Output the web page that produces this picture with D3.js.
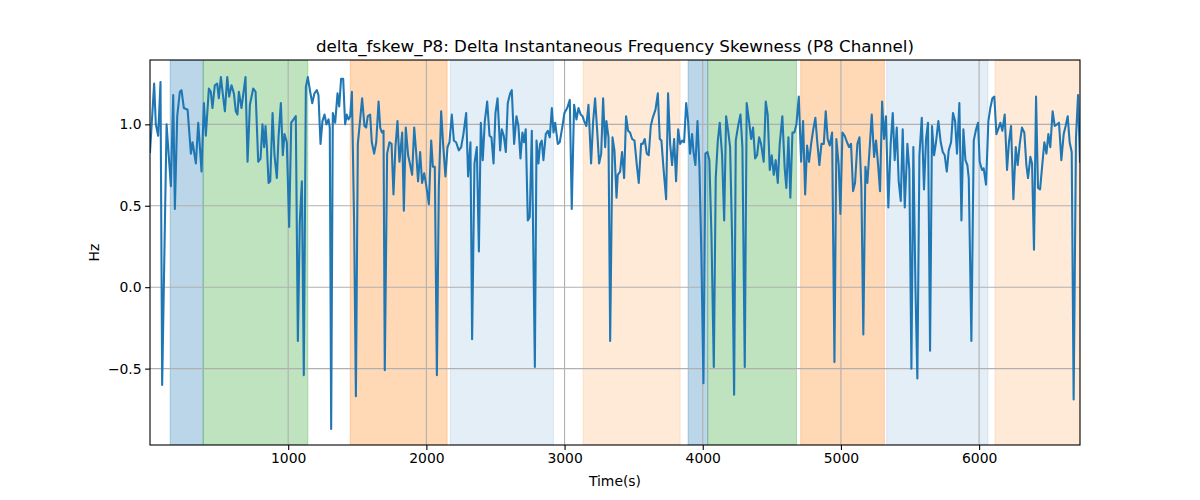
<!DOCTYPE html>
<html><head><meta charset="utf-8">
<script src="https://cdn.jsdelivr.net/npm/d3@7"></script>
<style>body{margin:0;background:#fff}svg{display:block}text{font-family:"DejaVu Sans",sans-serif;fill:#000}</style>
</head><body><svg id="c" width="1200" height="500"></svg>
<script>
const title = "delta_fskew_P8: Delta Instantaneous Frequency Skewness (P8 Channel)";
const xLabel = "Time(s)";
const yLabel = "Hz";
const xTicks = [1000, 2000, 3000, 4000, 5000, 6000];
const yTicks = [-0.5, 0.0, 0.5, 1.0];
const xDomain = [0, 6730];
const yDomain = [-0.969, 1.395];

const times = [0,30,42,59,76,88,120,151,168,180,197,216,228,245,272,296,308,332,349,373,390,404,426,440,452,469,486,498,513,525,542,559,573,590,607,621,633,643,662,691,706,723,747,764,783,800,814,826,836,
846,858,870,887,901,918,930,947,961,973,990,1007,1022,1039,1055,1070,1084,1099,1113,1128,1142,1159,1174,1190,1207,1219,1234,1248,1263,1277,1292,1301,1311,1323,1340,1357,1369,1383,1398,1412,1424,1436,1449,1461,1477,1490,1504,1521,1535,1552,1564,1576,1593,1605,1622,1637,1654,1666,1678,1690,1699,
1716,1733,1748,1762,1776,1791,1805,1825,1837,1851,1868,1883,1897,1912,1926,1940,1955,1969,1984,1998,2018,2035,2047,2061,2076,2090,2107,2121,2138,2153,2167,2184,2199,2215,2235,2252,2268,2288,2302,2319,2331,2348,2365,2380,2394,2408,2423,2440,2457,2471,2486,2500,2515,
2534,2546,2560,2575,2589,2606,2618,2635,2652,2666,2681,2695,2707,2719,2734,2748,2763,2785,2797,2811,2823,2835,2847,2864,2879,2893,2908,2920,2932,2951,2965,2985,2999,3019,3038,3052,3069,3086,3101,3117,3130,3142,3158,3173,3192,3207,3221,3236,3250,3265,3279,3294,3303,3318,3330,3347,3361,3376,
3385,3402,3416,3431,3445,3460,3474,3489,3506,3523,3537,3554,3566,3580,3595,3609,3624,3638,3658,3675,3689,3701,3716,3735,3749,3764,3778,3793,3807,3822,3836,3851,3865,3880,3894,3908,3923,3933,3947,3962,3976,3990,4005,4019,4034,4048,4063,4080,4094,4109,4123,4140,4155,4169,4184,4198,4213,4227,
4239,4256,4273,4287,4304,4318,4335,4350,4364,4379,4393,4408,4422,4441,4456,4470,4485,4499,4514,4528,4543,4557,4576,4593,4605,4620,4634,4649,4663,4678,4695,4712,4726,4741,4755,4769,4786,4798,4815,4830,4844,4859,4876,4890,4904,4919,4936,4953,4967,4984,4996,5011,5027,5044,5059,5073,
5088,5102,5119,5134,5148,5162,5177,5191,5206,5223,5240,5254,5269,5283,5298,5312,5326,5343,5360,5375,5389,5404,5418,5433,5447,5462,5481,5495,5510,5524,5539,5553,5568,5585,5601,5616,5630,5645,5659,5674,5688,5705,5722,5737,5751,5766,5780,5797,5811,5826,5840,5857,5872,5886,5901,5915,
5925,5944,5961,5978,5992,6004,6021,6033,6050,6067,6081,6096,6110,6125,6142,6154,6168,6185,6202,6216,6231,6248,6265,6279,6294,6310,6327,6342,6354,6371,6383,6397,6412,6426,6441,6458,6472,6487,6501,6515,6532,6547,6564,6578,6595,6612,6626,6641,6655,6670,6684,6701,6716,6730];

const values = [0.83,1.25,1.00,0.93,1.26,-0.60,1.00,0.62,1.18,0.48,1.05,1.20,1.21,1.10,1.09,0.82,0.89,0.76,1.01,0.71,1.13,0.93,1.22,1.20,1.10,1.24,1.25,1.16,1.29,1.20,1.08,1.29,1.17,1.24,1.19,1.08,1.06,1.20,1.10,1.29,0.77,1.12,1.22,1.20,0.77,0.79,1.00,0.86,0.99,
0.86,0.64,0.65,1.07,0.81,0.67,0.92,1.13,0.81,0.94,0.89,0.37,1.01,1.03,1.05,-0.33,0.40,0.65,-0.54,1.23,1.29,1.20,1.13,1.19,1.21,1.18,0.88,1.02,1.06,1.00,1.03,0.98,-0.87,1.07,1.01,1.19,1.11,1.28,1.28,1.00,1.06,1.03,1.05,1.20,0.40,-0.67,0.88,1.03,1.16,0.99,0.98,1.05,1.06,0.89,0.82,0.89,1.14,0.98,0.95,0.96,-0.51,
0.82,0.89,0.88,0.57,0.86,1.02,0.77,0.95,0.47,0.98,0.81,0.75,0.69,0.98,0.83,0.65,0.83,0.64,0.70,0.63,0.51,0.90,0.74,0.74,-0.54,0.61,1.08,0.88,0.68,0.86,0.89,1.06,0.90,0.89,0.84,0.86,0.94,1.07,0.68,0.89,-0.32,0.76,0.86,0.22,1.01,0.78,1.02,1.14,0.93,0.92,0.76,1.07,1.16,
0.84,0.97,0.93,0.83,1.13,1.19,1.21,0.88,1.05,0.99,0.79,0.95,0.89,0.97,0.41,0.43,0.96,-0.49,0.90,0.76,0.88,0.90,0.78,0.94,0.96,0.92,1.10,0.95,1.01,0.88,0.89,0.99,1.07,1.10,1.15,0.48,1.12,1.03,1.10,1.06,1.05,1.02,0.99,1.12,0.76,1.02,1.16,0.96,0.76,0.82,1.16,0.86,1.02,0.92,-0.33,0.92,0.84,0.55,
0.69,0.71,0.83,0.67,1.05,0.96,0.95,0.91,0.90,0.75,0.64,0.88,0.88,0.91,0.82,0.81,0.99,1.04,1.09,1.19,0.91,0.90,0.73,0.54,1.19,0.88,0.75,0.91,0.65,0.97,0.88,0.90,0.89,1.13,1.02,0.82,0.94,0.83,0.75,1.02,0.74,0.20,-0.59,0.82,0.83,0.78,0.32,-0.49,0.67,0.90,1.01,0.81,0.41,1.05,0.96,0.86,0.28,-0.66,
0.90,0.99,1.06,0.86,-0.49,1.13,1.02,0.91,0.98,0.79,0.81,0.92,0.88,0.77,1.14,1.06,0.72,0.81,0.69,0.78,0.64,0.88,1.05,0.73,0.61,0.92,0.55,0.95,0.95,1.00,1.17,0.77,1.02,0.57,0.87,0.77,0.89,0.96,1.04,0.88,0.75,0.88,0.88,1.08,0.91,0.87,0.95,-0.46,0.91,0.75,0.45,0.95,0.93,0.89,0.86,0.88,
0.59,0.64,0.88,0.92,0.61,-0.29,0.74,0.64,0.83,1.06,0.80,0.90,0.75,0.59,1.14,0.91,1.05,0.49,0.88,1.07,0.78,0.98,0.65,0.53,0.97,0.49,0.88,0.72,-0.50,0.86,0.01,-0.56,0.81,1.04,0.60,0.91,1.01,-0.39,0.99,0.81,0.89,1.02,0.89,0.83,0.81,0.71,0.84,0.89,1.07,1.02,0.82,1.13,0.41,0.97,0.78,0.75,
0.67,-0.33,0.90,0.97,1.01,0.77,0.72,0.73,0.63,1.02,1.10,1.16,1.17,0.94,0.98,1.01,0.96,1.06,0.72,0.89,0.99,0.54,0.86,0.75,0.88,0.98,0.95,0.75,0.67,0.80,0.76,0.23,1.17,0.61,0.60,0.76,0.89,0.82,0.94,0.86,1.08,0.99,1.00,1.01,0.78,0.94,0.99,1.05,0.89,0.83,-0.69,0.92,1.18,0.77];

const spanStarts = [146, 385, 1449, 2174, 3134, 3894, 4036, 4709, 5331, 6115];
const spanEnds   = [385, 1142, 2150, 2920, 3836, 4036, 4678, 5314, 6064, 6730];
const spanColors = ["#1f77b4","#2ca02c","#ff7f0e","#1f77b4","#ff7f0e","#1f77b4","#2ca02c","#ff7f0e","#1f77b4","#ff7f0e"];
const spanAlphas = [0.3,0.3,0.3,0.12,0.16,0.3,0.3,0.3,0.12,0.16];

const W=1200,H=500, m={l:150,r:1080,t:60,b:445};
const svg=d3.select("#c");
const x=d3.scaleLinear().domain(xDomain).range([m.l,m.r]);
const y=d3.scaleLinear().domain(yDomain).range([m.b,m.t]);

svg.append("defs").append("clipPath").attr("id","clip").append("rect")
  .attr("x",m.l).attr("y",m.t).attr("width",m.r-m.l).attr("height",m.b-m.t);

const gS=svg.append("g").attr("clip-path","url(#clip)");
gS.selectAll("rect").data(spanStarts).join("rect")
  .attr("x",(d)=>x(d)).attr("y",m.t)
  .attr("width",(d,i)=>x(spanEnds[i])-x(d)).attr("height",m.b-m.t)
  .attr("fill",(d,i)=>spanColors[i]).attr("fill-opacity",(d,i)=>spanAlphas[i])
  .attr("stroke",(d,i)=>spanColors[i]).attr("stroke-opacity",(d,i)=>spanAlphas[i]).attr("stroke-width",1);

// grid
const gG=svg.append("g");
gG.selectAll("line.gx").data(xTicks).join("line").attr("class","gx")
  .attr("x1",d=>x(d)).attr("x2",d=>x(d)).attr("y1",m.t).attr("y2",m.b)
  .attr("stroke","#b0b0b0").attr("stroke-width",1.1);
gG.selectAll("line.gy").data(yTicks).join("line").attr("class","gy")
  .attr("y1",d=>y(d)).attr("y2",d=>y(d)).attr("x1",m.l).attr("x2",m.r)
  .attr("stroke","#b0b0b0").attr("stroke-width",1.1);

// line
const line=d3.line().x((d,i)=>x(times[i])).y(d=>y(d));
svg.append("g").attr("clip-path","url(#clip)").append("path").datum(values)
  .attr("d",line).attr("fill","none").attr("stroke","#1f77b4").attr("stroke-width",2.08)
  .attr("stroke-linejoin","round").attr("stroke-linecap","square");

// axes
const fmtY=d=>d3.format(".1f")(d).replace("-","\u2212");
const ax=svg.append("g").attr("transform",`translate(0,${m.b})`)
  .call(d3.axisBottom(x).tickValues(xTicks).tickFormat(d3.format("d")).tickSize(4.9).tickPadding(3.5));
const ay=svg.append("g").attr("transform",`translate(${m.l},0)`)
  .call(d3.axisLeft(y).tickValues(yTicks).tickFormat(fmtY).tickSize(4.9).tickPadding(3.5));
[ax,ay].forEach(g=>{
  g.select(".domain").remove();
  g.selectAll("line").attr("stroke","#000").attr("stroke-width",1.1);
  g.selectAll("text").attr("font-family","DejaVu Sans").attr("font-size","13.9px").attr("fill","#000");
});
svg.append("rect").attr("x",m.l).attr("y",m.t).attr("width",m.r-m.l).attr("height",m.b-m.t)
  .attr("fill","none").attr("stroke","#000").attr("stroke-width",1.1);

svg.append("text").attr("x",(m.l+m.r)/2).attr("y",52).attr("text-anchor","middle")
  .attr("font-size","16.7px").text(title);
svg.append("text").attr("x",(m.l+m.r)/2).attr("y",486).attr("text-anchor","middle")
  .attr("font-size","13.9px").text(xLabel);
svg.append("text").attr("transform",`translate(99,${(m.t+m.b)/2}) rotate(-90)`).attr("text-anchor","middle")
  .attr("font-size","13.9px").text(yLabel);
</script></body></html>
